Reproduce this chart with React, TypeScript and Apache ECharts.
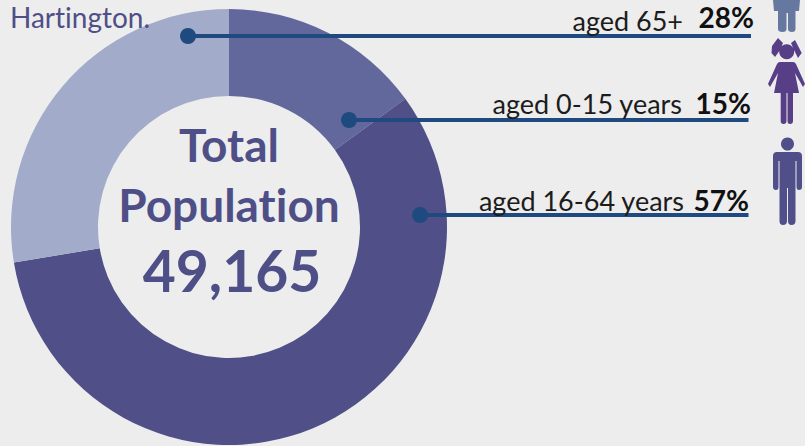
import React, { useEffect, useRef } from "react";
import * as echarts from "echarts";

const groups = ["aged 0-15 years", "aged 16-64 years", "aged 65+"];
const shares = [15, 57, 28];
const sliceValues = [15, 57.4, 27.6];
const sliceColors = ["#62679c", "#504f87", "#a2acca"];
const centerLines = ["Total", "Population"];
const totalLabel = "49,165";
const introTail = "Hartington.";

echarts.graphic.registerShape("personMan", echarts.graphic.extendPath(
  "M14.5 0.5a6.5 6.5 0 1 1-.01 0ZM4 15H25Q29 15 29 19V50Q29 53 26 53 23.5 53 23.5 50V24H22.5V84Q22.5 88 18.5 88 15 88 15 84V51H14V84Q14 88 10 88 6.5 88 6.5 84V24H5.5V50Q5.5 53 3 53 0 53 0 50V19Q0 15 4 15Z", {}));
echarts.graphic.registerShape("personGirl", echarts.graphic.extendPath(
  "M18.7 6.2a7.5 7.5 0 1 1-.01 0ZM12 24H25Q27 24 28 26L37 46 35 49 27 35 31 55H25V83Q25 86 22 86 19.5 86 19.5 83V55H18.5V83Q18.5 86 15.5 86 12.7 86 12.7 83V55H6L10 35 2 49 0 46 9 26Q10 24 12 24ZM10 0 15 5 12 12 7 19 3.5 15 4 8ZM27 2 33.7 15 30 20 26 12 23 5Z", {}));
echarts.graphic.registerShape("personElder", echarts.graphic.extendPath(
  "M0 0H27L26 11 22.5 11V29Q22.5 32 19 32 15 32 15 29V13H13.5V29Q13.5 32 9.5 32 5 32 5 29V11H1Z", {}));

const leaderLine = "#1f4a80";
const labelFont = "Lato, 'Open Sans', sans-serif";

export default function App() {
  const ref = useRef<HTMLDivElement>(null);
  useEffect(() => {
    document.body.style.margin = "0";
    const chart = echarts.init(ref.current!, null, { renderer: "svg" });
    const leaders = [
      { x1: 349, y: 120, x2: 748.5, label: groups[0], pct: shares[0], lx: 682, ly: 103, py: 103, px: 751 },
      { x1: 420, y: 215, x2: 748.5, label: groups[1], pct: shares[1], lx: 684, ly: 200, py: 200, px: 749 },
      { x1: 188, y: 36, x2: 751, label: groups[2], pct: shares[2], lx: 683, ly: 20, py: 17, px: 754 },
    ];
    const graphic: any[] = [];
    leaders.forEach((l) => {
      graphic.push({ type: "line", z: 10, shape: { x1: l.x1, y1: l.y, x2: l.x2, y2: l.y }, style: { stroke: leaderLine, lineWidth: 4 } });
      graphic.push({ type: "circle", z: 10, shape: { cx: l.x1, cy: l.y, r: 8 }, style: { fill: leaderLine } });
      graphic.push({ type: "text", z: 11, x: l.lx, y: l.ly, style: { text: l.label, font: `27px ${labelFont}`, fill: "#1c1c1c", align: "right", verticalAlign: "middle" } });
      graphic.push({ type: "text", z: 11, x: l.px, y: l.py, style: { text: `${l.pct}%`, font: `bold 28px ${labelFont}`, fill: "#111", align: "right", verticalAlign: "middle" } });
    });
    graphic.push({ type: "text", z: 11, x: 10, y: 16.5, style: { text: introTail, font: `28px ${labelFont}`, fill: "#4f4f88", align: "left", verticalAlign: "middle" } });
    graphic.push({ type: "text", z: 11, x: 229, y: 144, style: { text: centerLines[0], font: `bold 46px ${labelFont}`, fill: "#4f4f88", align: "center", verticalAlign: "middle" } });
    graphic.push({ type: "text", z: 11, x: 229, y: 204, style: { text: centerLines[1], font: `bold 46px ${labelFont}`, fill: "#4f4f88", align: "center", verticalAlign: "middle" } });
    graphic.push({ type: "text", z: 11, x: 232, y: 270, style: { text: totalLabel, font: `bold 57px ${labelFont}`, fill: "#4f4f88", align: "center", verticalAlign: "middle" } });
    graphic.push({ type: "personElder", z: 11, x: 773, y: 0, style: { fill: "#66789f" } });
    graphic.push({ type: "personGirl", z: 11, x: 768, y: 38, style: { fill: "#573e87" } });
    graphic.push({ type: "personMan", z: 11, x: 773, y: 137, style: { fill: "#514f8a" } });

    chart.setOption({
      animation: false,
      backgroundColor: "#ededed",
      graphic,
      series: [{
        type: "pie",
        center: [229, 227],
        radius: [131, 218],
        startAngle: 90,
        clockwise: true,
        label: { show: false },
        labelLine: { show: false },
        silent: true,
        data: groups.map((name, i) => ({ name, value: sliceValues[i], itemStyle: { color: sliceColors[i] } })),
      }],
    });
    return () => chart.dispose();
  }, []);
  return (
    <>
      <style>{"svg text { font-variant-ligatures: none !important; }"}</style>
      <div ref={ref} style={{ width: 805, height: 446 }} />
    </>
  );
}
